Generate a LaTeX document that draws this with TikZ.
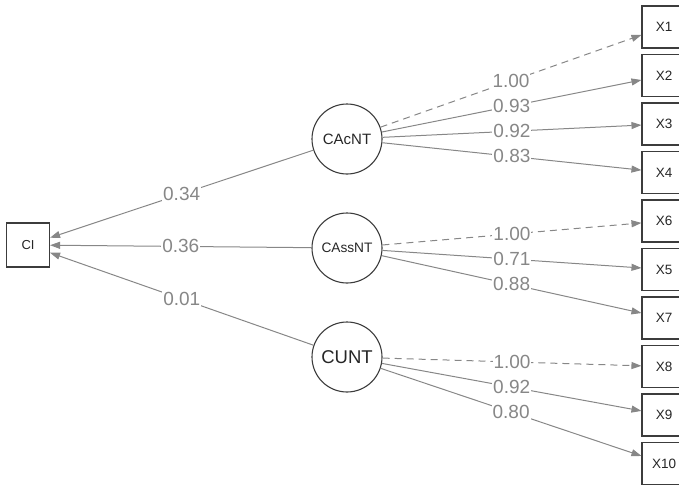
\documentclass[tikz,border=0pt]{standalone}
\usepackage{fontspec}
\setmainfont{Liberation Sans}
\usetikzlibrary{positioning}
\usetikzlibrary{arrows.meta}

\definecolor{edgegray}{RGB}{135,135,135}
\definecolor{boxgray}{RGB}{60,60,60}

\begin{document}
\begin{tikzpicture}[->,>={Triangle[length=10pt,width=7pt]},x=1pt,y=-1pt,
	node distance=48.5pt,line width=1pt,draw=edgegray,
	obs node/.style={rectangle,draw=boxgray,line width=1.1pt,minimum width=44pt,
		minimum height=42pt,inner sep=0pt,text=black!85},
	lat node/.style={circle,draw=boxgray,line width=1.1pt,minimum size=70pt,
		inner sep=0pt,text=black!85},
	lbl/.style={fill=white,inner sep=1pt,text=edgegray,font=\fontsize{19}{19}\selectfont},
	ref edge/.style={dash pattern=on 7pt off 5pt}]
	
	\useasboundingbox (0,0) rectangle (679,485);
	
	% outcome
	\node[obs node, minimum width=43pt, minimum height=44pt, font=\fontsize{13}{13}\selectfont] (ci) at (28,245) {CI};
	
	% latent factors
	\node[lat node, font=\fontsize{15}{15}\selectfont] (cacnt) at (347,139) {CAcNT};
	\node[lat node, font=\fontsize{13.7}{14}\selectfont] (cassnt) at (347,248) {CAssNT};
	\node[lat node, font=\fontsize{18.5}{19}\selectfont] (cunt) at (347,357) {CUNT};
	
	% indicators
	\begin{scope}[every node/.append style={font=\fontsize{13.5}{14}\selectfont}]
	\node[obs node] (x1) at (664,27) {X1};
	\node[obs node] (x2) [below of=x1] {X2};
	\node[obs node] (x3) [below of=x2] {X3};
	\node[obs node] (x4) [below of=x3] {X4};
	\node[obs node] (x6) [below of=x4] {X6};
	\node[obs node] (x5) [below of=x6] {X5};
	\node[obs node] (x7) [below of=x5] {X7};
	\node[obs node] (x8) [below of=x7] {X8};
	\node[obs node] (x9) [below of=x8] {X9};
	\node[obs node] (x10) [below of=x9] {X10};
	\end{scope}
	
	\path[every node/.style={lbl}]
	(cacnt) edge node {0.34} (ci)
	(cassnt) edge node {0.36} (ci)
	(cunt) edge node {0.01} (ci)
	(cacnt) edge[ref edge] node {1.00} (x1)
	(cacnt) edge node {0.93} (x2)
	(cacnt) edge node {0.92} (x3)
	(cacnt) edge node {0.83} (x4)
	(cassnt) edge[ref edge] node {1.00} (x6)
	(cassnt) edge node {0.71} (x5)
	(cassnt) edge node {0.88} (x7)
	(cunt) edge[ref edge] node {1.00} (x8)
	(cunt) edge node {0.92} (x9)
	(cunt) edge node {0.80} (x10);
\end{tikzpicture}
\end{document}
